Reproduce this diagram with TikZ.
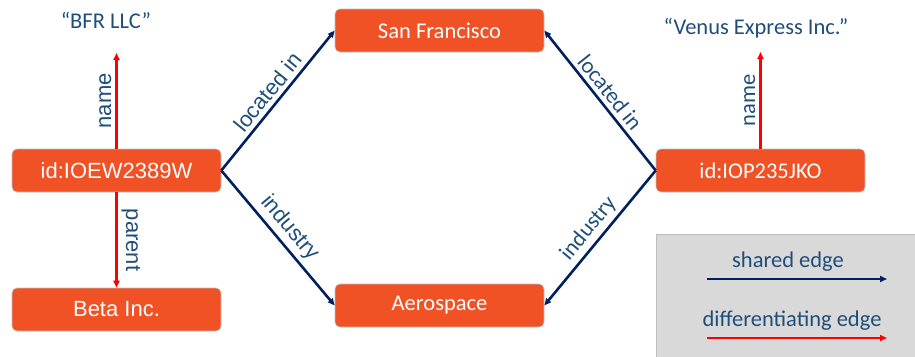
\documentclass[tikz,border=0pt]{standalone}
\usepackage{fontspec}
\setmainfont{Carlito}
\newfontfamily\arialfont{Liberation Sans}
\usetikzlibrary{arrows.meta}
\definecolor{nodeorange}{RGB}{240,82,38}
\definecolor{edgenavy}{RGB}{0,32,96}
\definecolor{textblue}{RGB}{31,78,121}
\definecolor{boxgray}{RGB}{217,217,217}
\definecolor{rimgray}{RGB}{191,191,191}

\begin{document}
\begin{tikzpicture}[x=1pt,y=-1pt,->,>={Triangle[length=7pt,width=6pt]},line width=2pt,font=\fontsize{22.5}{27}\selectfont]
\tikzset{EntityStyle/.style = {draw=rimgray,line width=0.6pt,fill=nodeorange,
                               rounded corners=5pt,text=white,inner sep=0pt,
                               minimum width=209pt,minimum height=43pt},
         ValueStyle/.style = {text=textblue},
         SharedEdge/.style = {draw=edgenavy,line width=2.6pt},
         DiffEdge/.style = {draw=red,line width=2.3pt},
         EdgeLabel/.style = {sloped,above,text=textblue,inner sep=4pt},
         ArialText/.style = {font=\arialfont\fontsize{22}{26}\selectfont}}
\useasboundingbox (0,0) rectangle (915,356);
\filldraw[-,fill=boxgray,draw=rimgray,line width=1pt] (656,234) rectangle (925,366);
\node[EntityStyle,ArialText] (ioew) at (116.5,170.5) {id:IOEW2389W};
\node[EntityStyle,ArialText] (beta) at (116.5,309.5) {Beta Inc.};
\node[EntityStyle] (sf) at (439.5,30.5) {San Francisco};
\node[EntityStyle] (aero) at (439.5,305.5) {Aerospace};
\node[EntityStyle] (iop) at (760.5,170.5) {id:IOP235JKO};
\node[ValueStyle] (bfr) at (106,20) {“BFR LLC”};
\node[ValueStyle] (venus) at (756,28) {“Venus Express Inc.”};
\coordinate (bfrtip) at (116.5,53); \coordinate (venustip) at (760.5,52);
\node[ValueStyle] (shared) at (788,262) {shared edge};
\node[ValueStyle] (diff) at (792,321) {differentiating edge};
\coordinate (sharedA) at (707,279); \coordinate (sharedB) at (887,279);
\coordinate (diffA) at (707,338);   \coordinate (diffB) at (887,338);
\draw[DiffEdge] (ioew) -- node[EdgeLabel,ArialText] {name} (bfrtip);
\draw[DiffEdge] (ioew) -- node[EdgeLabel,ArialText] {parent} (beta);
\draw[DiffEdge] (iop) -- node[EdgeLabel] {name} (venustip);
\draw[SharedEdge] (ioew.east) -- node[EdgeLabel,ArialText] {located in} (sf.west);
\draw[SharedEdge] (ioew.east) -- node[EdgeLabel,ArialText] {industry} (aero.west);
\draw[SharedEdge] (iop.west) -- node[EdgeLabel] {located in} (sf.east);
\draw[SharedEdge] (iop.west) -- node[EdgeLabel] {industry} (aero.east);
\draw[SharedEdge] (sharedA) -- (sharedB);
\draw[DiffEdge] (diffA) -- (diffB);
\end{tikzpicture}
\end{document}
